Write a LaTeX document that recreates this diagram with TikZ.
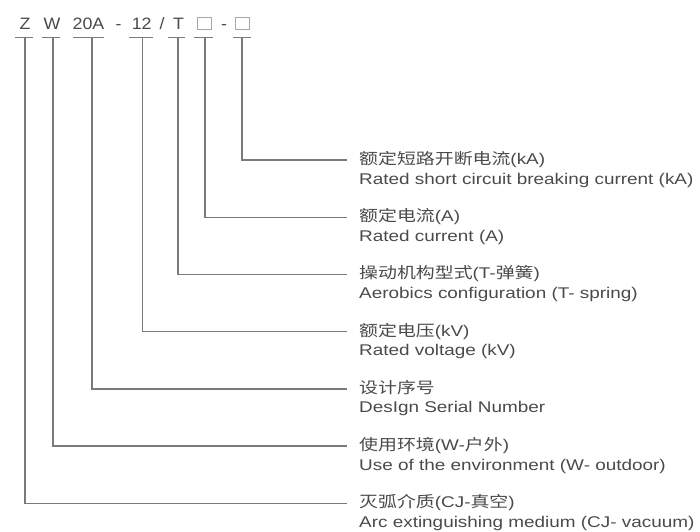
\documentclass[tikz,border=0pt]{standalone}
\usepackage{fontspec}
\usepackage{graphicx}
\setmainfont{Liberation Sans}
\newfontfamily\cjk{Noto Sans CJK SC}
\definecolor{txt}{HTML}{4A4A4A}
\definecolor{ln}{HTML}{7A7A7A}
\definecolor{sqc}{HTML}{A8A8A8}
\newcommand{\sx}[1]{\scalebox{1.22}[1]{#1}}
\newcommand{\sxt}[1]{\scalebox{1.08}[1]{#1}}
\begin{document}
\begin{tikzpicture}[x=1pt,y=-1pt,
  code/.style={anchor=base,inner sep=0,text=txt,font=\fontsize{16.5}{18}\selectfont},
  cn/.style={anchor=base west,inner sep=0,text=txt,font=\fontsize{15.5}{18}\selectfont},
  en/.style={anchor=base west,inner sep=0,text=txt,font=\fontsize{15.5}{18}\selectfont},
  leader/.style={draw=ln,line width=1.4pt},
  sqbox/.style={draw=sqc,line width=0.9pt,minimum width=14,minimum height=12,inner sep=0}]
\useasboundingbox (0,0) rectangle (700,531);

% code line
\node[code] (cZ) at (25,29.3) {\sxt{Z}};
\node[code] (cW) at (52,29.3) {\sxt{W}};
\node[code] (c20A) at (88.5,29.3) {\sxt{20A}};
\node[code] (cd1) at (118.7,29.3) {\sxt{-}};
\node[code] (c12) at (141.7,29.3) {\sxt{12}};
\node[code] (csl) at (162,29.3) {\sxt{/}};
\node[code] (cT) at (178.5,29.3) {\sxt{T}};
\node[sqbox] (cS1) at (204,23) {};
\node[code] (cd2) at (224,29.3) {\sxt{-}};
\node[sqbox] (cS2) at (242.5,23) {};

% bars under code
\draw[leader] (15,37.7) -- (33,37.7);
\draw[leader] (42,37.7) -- (60,37.7);
\draw[leader] (73,37.7) -- (104,37.7);
\draw[leader] (129,37.7) -- (153,37.7);
\draw[leader] (168,37.7) -- (185,37.7);
\draw[leader] (194,37.7) -- (213,37.7);
\draw[leader] (233,37.7) -- (251,37.7);

\coordinate (bZ) at (25,37.7);
\coordinate (bW) at (53,37.7);
\coordinate (b20A) at (92,37.7);
\coordinate (b12) at (142.7,37.7);
\coordinate (bT) at (178,37.7);
\coordinate (bS1) at (205,37.7);
\coordinate (bS2) at (242,37.7);

% line ends
\coordinate (eKA) at (346.7,160);
\coordinate (eA) at (346.7,217.2);
\coordinate (eT) at (346.7,274.4);
\coordinate (eKV) at (346.7,331.6);
\coordinate (eSN) at (346.7,388.8);
\coordinate (eW) at (346.7,446);
\coordinate (eCJ) at (346.7,503.2);

% labels
\node[cn] (nKA) at (359,164.5) {\sx{{\cjk 额定短路开断电流}(kA)}};
\node[en] (mKA) at (359,184) {\sx{Rated short circuit breaking current (kA)}};
\node[cn] (nA) at (359,221.7) {\sx{{\cjk 额定电流}(A)}};
\node[en] (mA) at (359,241.2) {\sx{Rated current (A)}};
\node[cn] (nT) at (359,278.9) {\sx{{\cjk 操动机构型式}(T-{\cjk 弹簧})}};
\node[en] (mT) at (359,298.4) {\sx{Aerobics configuration (T- spring)}};
\node[cn] (nKV) at (359,336.1) {\sx{{\cjk 额定电压}(kV)}};
\node[en] (mKV) at (359,355.6) {\sx{Rated voltage (kV)}};
\node[cn] (nSN) at (359,393.3) {\sx{{\cjk 设计序号}}};
\node[en] (mSN) at (359,412.8) {\sx{DesIgn Serial Number}};
\node[cn] (nW) at (359,450.5) {\sx{{\cjk 使用环境}(W-{\cjk 户外})}};
\node[en] (mW) at (359,470) {\sx{Use of the environment (W- outdoor)}};
\node[cn] (nCJ) at (359,507.7) {\sx{{\cjk 灭弧介质}(CJ-{\cjk 真空})}};
\node[en] (mCJ) at (359,527.2) {\sx{Arc extinguishing medium (CJ- vacuum)}};

% connectors
\draw[leader] (bS2) |- (eKA);
\draw[leader] (bS1) |- (eA);
\draw[leader] (bT) |- (eT);
\draw[leader] (b12) |- (eKV);
\draw[leader] (b20A) |- (eSN);
\draw[leader] (bW) |- (eW);
\draw[leader] (bZ) |- (eCJ);
\end{tikzpicture}
\end{document}
